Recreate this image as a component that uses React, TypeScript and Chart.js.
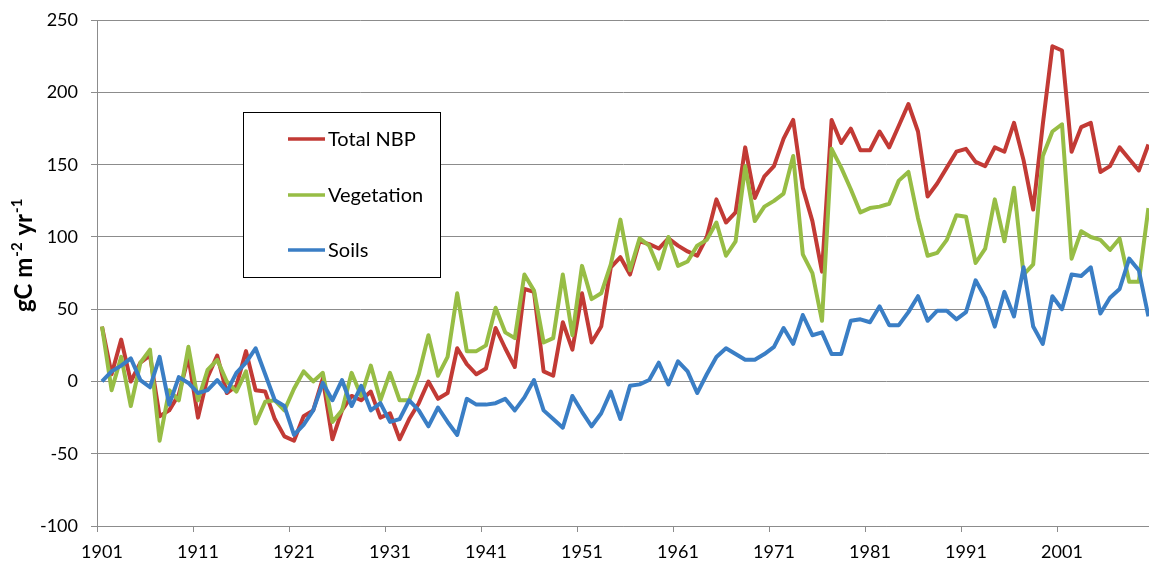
import { useEffect, useRef } from 'react';
import { Chart, registerables } from 'chart.js';

Chart.register(...registerables);

const firstYear = 1901;

const totalNBP = [
  38, 5, 29, 0, 13, 18, -24, -20, -9, 17,
  -25, 3, 18, -8, -3, 21, -6, -7, -26, -38,
  -41, -24, -20, 2, -40, -20, -10, -13, -7, -25,
  -22, -40, -26, -15, 0, -12, -8, 23, 12, 5,
  9, 37, 23, 10, 64, 62, 7, 4, 41, 22,
  61, 27, 38, 79, 86, 74, 97, 95, 92, 99,
  94, 90, 87, 100, 126, 110, 117, 162, 127, 142,
  149, 168, 181, 134, 111, 76, 181, 165, 175, 160,
  160, 173, 162, 177, 192, 173, 128, 137, 148, 159,
  161, 152, 149, 162, 159, 179, 153, 119, 178, 232,
  229, 159, 176, 179, 145, 149, 162, 154, 146, 164,
];

const vegetation = [
  38, -6, 17, -17, 13, 22, -41, -6, -13, 24,
  -13, 8, 15, 0, -7, 7, -29, -14, -13, -20,
  -5, 7, 0, 6, -28, -20, 6, -10, 11, -13,
  6, -13, -13, 5, 32, 4, 17, 61, 21, 21,
  25, 51, 34, 30, 74, 63, 27, 30, 74, 32,
  80, 57, 61, 81, 112, 77, 99, 94, 78, 100,
  80, 83, 94, 98, 110, 87, 97, 149, 111, 121,
  125, 130, 156, 88, 75, 42, 161, 148, 133, 117,
  120, 121, 123, 139, 145, 113, 87, 89, 98, 115,
  114, 82, 92, 126, 97, 134, 74, 81, 156, 173,
  178, 85, 104, 100, 98, 91, 99, 69, 69, 120,
];

const soils = [
  0, 7, 11, 16, 1, -4, 17, -16, 3, -1,
  -8, -6, 1, -7, 6, 13, 23, 5, -13, -17,
  -37, -30, -20, -1, -13, 1, -17, -3, -20, -15,
  -28, -26, -13, -20, -31, -18, -28, -37, -12, -16,
  -16, -15, -12, -20, -11, 1, -20, -26, -32, -10,
  -21, -31, -22, -7, -26, -3, -2, 1, 13, -2,
  14, 7, -8, 5, 17, 23, 19, 15, 15, 19,
  24, 37, 26, 46, 32, 34, 19, 19, 42, 43,
  41, 52, 39, 39, 48, 59, 42, 49, 49, 43,
  48, 70, 58, 38, 62, 45, 79, 38, 26, 59,
  50, 74, 73, 79, 47, 58, 64, 85, 77, 45,
];

const years = totalNBP.map((_, i) => firstYear + i);
const xTickYears = [1901, 1911, 1921, 1931, 1941, 1951, 1961, 1971, 1981, 1991, 2001];
const yMin = -100;
const yMax = 250;
const yStep = 50;

const seriesNames = ['Total NBP', 'Vegetation', 'Soils'];
const seriesColors = ['#C23A35', '#97BD45', '#3A7EC5'];
const seriesValues = [totalNBP, vegetation, soils];

const gridColor = '#8c8c8c';
const fontFamily = 'Lato, "Open Sans", sans-serif';

const overlayPlugin = {
  id: 'overlay',
  afterDraw(chart: any) {
    const { ctx, chartArea } = chart;
    const xs = chart.scales.x;
    ctx.save();

    // x-axis tick marks between categories
    ctx.strokeStyle = gridColor;
    ctx.lineWidth = 1;
    xTickYears.forEach((yr) => {
      const px = Math.round(xs.getPixelForValue(yr - 0.5)) + 0.5;
      ctx.beginPath();
      ctx.moveTo(px, chartArea.bottom);
      ctx.lineTo(px, chartArea.bottom + 6);
      ctx.stroke();
    });

    // y-axis title with superscripts
    ctx.save();
    ctx.translate(32, 312);
    ctx.rotate(-Math.PI / 2);
    ctx.fillStyle = '#000';
    ctx.textBaseline = 'alphabetic';
    ctx.textAlign = 'left';
    const big = `bold 24px ${fontFamily}`;
    const sup = `bold 15px ${fontFamily}`;
    const parts: [string, string, number][] = [
      ['gC m', big, 0],
      ['-2', sup, -10],
      [' yr', big, 0],
      ['-1', sup, -10],
    ];
    let cx = 0;
    parts.forEach(([t, f, dy]) => {
      ctx.font = f;
      ctx.fillText(t, cx, dy);
      cx += ctx.measureText(t).width + 1;
    });
    ctx.restore();

    // legend box
    const bx = 243.5, by = 112.5, bw = 197, bh = 165;
    ctx.fillStyle = '#fff';
    ctx.fillRect(bx, by, bw, bh);
    ctx.strokeStyle = '#000';
    ctx.lineWidth = 1;
    ctx.strokeRect(bx, by, bw, bh);
    const rows = [139, 195, 250];
    ctx.font = `20px ${fontFamily}`;
    ctx.textBaseline = 'middle';
    ctx.textAlign = 'left';
    seriesNames.forEach((name, i) => {
      ctx.strokeStyle = seriesColors[i];
      ctx.lineWidth = 3.6;
      ctx.beginPath();
      ctx.moveTo(288, rows[i]);
      ctx.lineTo(325, rows[i]);
      ctx.stroke();
      ctx.fillStyle = '#000';
      ctx.fillText(name, 328, rows[i] + 1);
    });

    ctx.restore();
  },
};

export default function App() {
  const canvasRef = useRef<HTMLCanvasElement | null>(null);

  useEffect(() => {
    const canvas = canvasRef.current;
    if (!canvas) return;
    const pxPerYear = 9.6;
    const plotWidth = 1149 - 97;
    const xMin = firstYear - 5 / pxPerYear;
    const xMax = xMin + plotWidth / pxPerYear;

    const chart = new Chart(canvas, {
      type: 'line',
      data: {
        datasets: seriesValues.map((vals, i) => ({
          label: seriesNames[i],
          data: vals.map((v, j) => ({ x: years[j], y: v })),
          borderColor: seriesColors[i],
          backgroundColor: seriesColors[i],
          borderWidth: 4,
          pointRadius: 0,
          tension: 0,
          fill: false,
          borderJoinStyle: 'round',
          order: 3 - i,
        })),
      },
      options: {
        animation: false,
        responsive: false,
        devicePixelRatio: 1,
        layout: { padding: { top: 18, left: 0, right: 0, bottom: 0 } },
        plugins: {
          legend: { display: false },
          tooltip: { enabled: false },
        },
        scales: {
          x: {
            type: 'linear',
            min: xMin,
            max: xMax,
            afterBuildTicks: (s: any) => {
              s.ticks = xTickYears.map((v) => ({ value: v }));
            },
            afterFit: (s: any) => {
              s.height = 42;
            },
            grid: { display: false, drawTicks: false },
            border: { display: true, color: gridColor, width: 1 },
            ticks: {
              padding: 15,
              maxRotation: 0,
              autoSkip: false,
              color: '#000',
              font: { family: fontFamily, size: 18 },
              callback: (v: any) => String(v),
            },
          },
          y: {
            min: yMin,
            max: yMax,
            afterFit: (s: any) => {
              s.width = 97;
            },
            grid: { color: gridColor, lineWidth: 1, tickLength: 6, drawTicks: true },
            border: { display: true, color: gridColor, width: 1 },
            ticks: {
              stepSize: yStep,
              padding: 13,
              color: '#000',
              font: { family: fontFamily, size: 18, lineHeight: 0.8 },
              callback: (v: any) => String(v),
            },
          },
        },
      },
      plugins: [overlayPlugin],
    } as any);

    return () => chart.destroy();
  }, []);

  return (
    <div style={{ position: 'absolute', left: 0, top: 0, width: 1149, height: 568, background: '#fff' }}>
      <canvas ref={canvasRef} width={1149} height={568} style={{ display: 'block' }} />
    </div>
  );
}
